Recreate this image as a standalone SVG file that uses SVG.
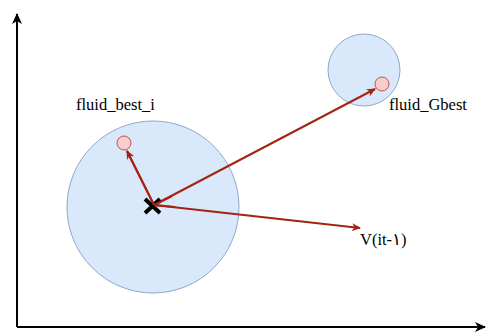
<svg xmlns="http://www.w3.org/2000/svg" width="486" height="334" viewBox="0 0 486 334">
<style>
.region{fill:#dae8fc;stroke:#8fa8c8;stroke-width:1}
.dot{fill:#f8cecc;stroke:#b85450;stroke-width:1}
.lbl{font-family:"Liberation Serif","DejaVu Serif",serif;font-size:16.5px;fill:#000}
.vec{stroke:#a52410;stroke-width:2;fill:none;marker-end:url(#ah)}
.axis{stroke:#000;stroke-width:2;fill:none;marker-end:url(#ax)}
</style>
<defs>
<marker id="ah" markerWidth="10" markerHeight="10" refX="8" refY="5" orient="auto" markerUnits="userSpaceOnUse">
<path d="M0,1 L9,5 L0,9 L2.5,5 Z" fill="#a52410"/>
</marker>
<marker id="ax" markerWidth="12" markerHeight="12" refX="10" refY="6" orient="auto" markerUnits="userSpaceOnUse">
<path d="M0,1 L11,6 L0,11 L3,6 Z" fill="#000"/>
</marker>
</defs>
<g id="axes">
<path class="axis" d="M17,327 L17,14"/>
<path class="axis" d="M17,327 L485,327"/>
</g>
<g id="region-i"><circle class="region" cx="153" cy="207" r="86"/></g>
<g id="region-g"><circle class="region" cx="364" cy="70" r="36"/></g>
<g id="fluid_best_i"><circle class="dot" cx="124" cy="143" r="7"/><text class="lbl" x="76" y="110">fluid_best_i</text></g>
<g id="fluid_Gbest"><circle class="dot" cx="382" cy="84" r="7"/><text class="lbl" x="389" y="110">fluid_Gbest</text></g>
<g id="vlabel"><text class="lbl" x="360" y="245">V(it-١)</text></g>
<g id="connectors">
<path class="vec" d="M154,205 L127,151"/>
<path class="vec" d="M154,205 L375,89"/>
<path class="vec" d="M154,205 L360,228"/>
</g>
<g id="particle">
<path d="M145,199 L160,213 M160,199 L145,213" stroke="#000" stroke-width="4" stroke-linecap="butt"/>
<path d="M154,205 L127,151 M154,205 L172,196 M154,205 L175,207" stroke="#a52410" stroke-width="2"/>
</g>
</svg>
